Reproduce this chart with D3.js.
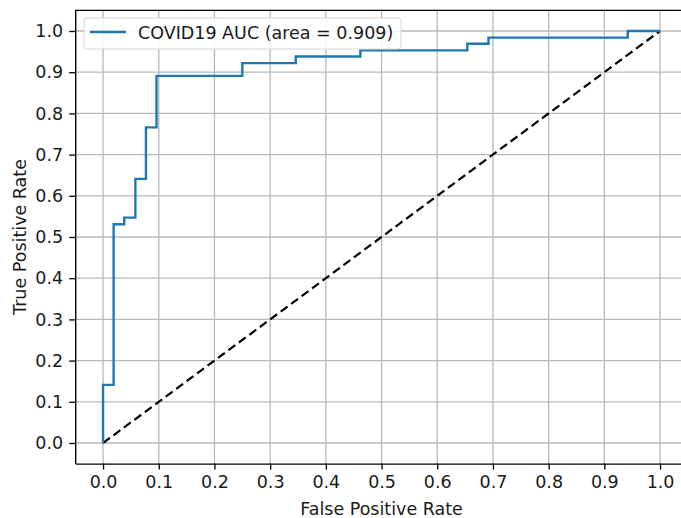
<!DOCTYPE html>
<html>
<head>
<meta charset="utf-8">
<script src="https://cdn.jsdelivr.net/npm/d3@7"></script>
<style>
  body { margin: 0; background: #fff; }
  svg { display: block; font-family: "DejaVu Sans", sans-serif; }
</style>
</head>
<body>
<div id="chart"></div>
<script>
const width = 681;
const height = 518;

// ROC curve points (step shape)
const fpr = [0, 0, 0.019, 0.019, 0.038, 0.038, 0.058, 0.058, 0.077, 0.077, 0.096, 0.096, 0.25, 0.25, 0.346, 0.346, 0.462, 0.462, 0.654, 0.654, 0.692, 0.692, 0.942, 0.942, 1.0];
const tpr = [0, 0.141, 0.141, 0.531, 0.531, 0.547, 0.547, 0.641, 0.641, 0.766, 0.766, 0.891, 0.891, 0.922, 0.922, 0.938, 0.938, 0.953, 0.953, 0.969, 0.969, 0.984, 0.984, 1.0, 1.0];
const chanceLine = [[0, 0], [1, 1]];
const ticks = [0, 0.1, 0.2, 0.3, 0.4, 0.5, 0.6, 0.7, 0.8, 0.9, 1.0];
const legendLabel = "COVID19 AUC (area = 0.909)";

const fontSize = 17.5;
const textColor = "#1a1a1a";

// plot area (x right edge runs past the window, as in the original)
const x = d3.scaleLinear().domain([-0.05, 1.05]).range([75.2, 687.9]);
const y = d3.scaleLinear().domain([-0.05, 1.05]).range([463.6, 10.4]);

const svg = d3.select("#chart").append("svg")
  .attr("width", width)
  .attr("height", height);

// grid
const grid = svg.append("g").attr("stroke", "#b8b8b8").attr("stroke-width", 1.3);
grid.selectAll("line.vx").data(ticks).join("line")
  .attr("x1", d => x(d)).attr("x2", d => x(d))
  .attr("y1", y.range()[0]).attr("y2", y.range()[1]);
grid.selectAll("line.hy").data(ticks).join("line")
  .attr("y1", d => y(d)).attr("y2", d => y(d))
  .attr("x1", x.range()[0]).attr("x2", x.range()[1]);

// chance line
svg.append("path")
  .datum(chanceLine)
  .attr("fill", "none")
  .attr("stroke", "#000")
  .attr("stroke-width", 2.2)
  .attr("stroke-dasharray", "8.5,4.5")
  .attr("d", d3.line().x(d => x(d[0])).y(d => y(d[1])));

// ROC curve
svg.append("path")
  .datum(d3.zip(fpr, tpr))
  .attr("fill", "none")
  .attr("stroke", "#1f77b4")
  .attr("stroke-width", 2.4)
  .attr("d", d3.line().x(d => x(d[0])).y(d => y(d[1])));

// axes
const fmt = d3.format(".1f");
svg.append("g")
  .attr("transform", `translate(0,${y.range()[0]})`)
  .call(d3.axisBottom(x).tickValues(ticks).tickFormat(fmt).tickSizeInner(6).tickSizeOuter(0).tickPadding(6))
  .call(g => g.select(".domain").attr("stroke-width", 1.4))
  .call(g => g.selectAll(".tick line").attr("stroke-width", 1.3))
  .call(g => g.selectAll("text").attr("font-size", fontSize).attr("fill", textColor).attr("font-family", "DejaVu Sans"));

svg.append("g")
  .attr("transform", `translate(${x.range()[0]},0)`)
  .call(d3.axisLeft(y).tickValues(ticks).tickFormat(fmt).tickSizeInner(6).tickSizeOuter(0).tickPadding(6))
  .call(g => g.select(".domain").attr("stroke-width", 1.4))
  .call(g => g.selectAll(".tick line").attr("stroke-width", 1.3))
  .call(g => g.selectAll("text").attr("font-size", fontSize).attr("fill", textColor).attr("font-family", "DejaVu Sans"));

// top frame
svg.append("line")
  .attr("x1", x.range()[0]).attr("x2", x.range()[1])
  .attr("y1", y.range()[1]).attr("y2", y.range()[1])
  .attr("stroke", "#000").attr("stroke-width", 1.4);

// axis labels
svg.append("text")
  .attr("x", (x(0) + x(1)) / 2)
  .attr("y", 515)
  .attr("text-anchor", "middle")
  .attr("font-size", fontSize)
  .attr("fill", textColor)
  .text("False Positive Rate");

svg.append("text")
  .attr("transform", `translate(26,${(y(0) + y(1)) / 2}) rotate(-90)`)
  .attr("text-anchor", "middle")
  .attr("font-size", fontSize)
  .attr("fill", textColor)
  .text("True Positive Rate");

// legend
const legend = svg.append("g").attr("transform", "translate(84,18)");
legend.append("rect")
  .attr("width", 317).attr("height", 31).attr("rx", 3)
  .attr("fill", "#fff").attr("fill-opacity", 0.85)
  .attr("stroke", "#d6d6d6").attr("stroke-width", 1);
legend.append("line")
  .attr("x1", 6).attr("x2", 42).attr("y1", 14).attr("y2", 14)
  .attr("stroke", "#1f77b4").attr("stroke-width", 2.4);
legend.append("text")
  .attr("x", 54).attr("y", 21)
  .attr("font-size", fontSize)
  .attr("fill", textColor)
  .text(legendLabel);
</script>
</body>
</html>
